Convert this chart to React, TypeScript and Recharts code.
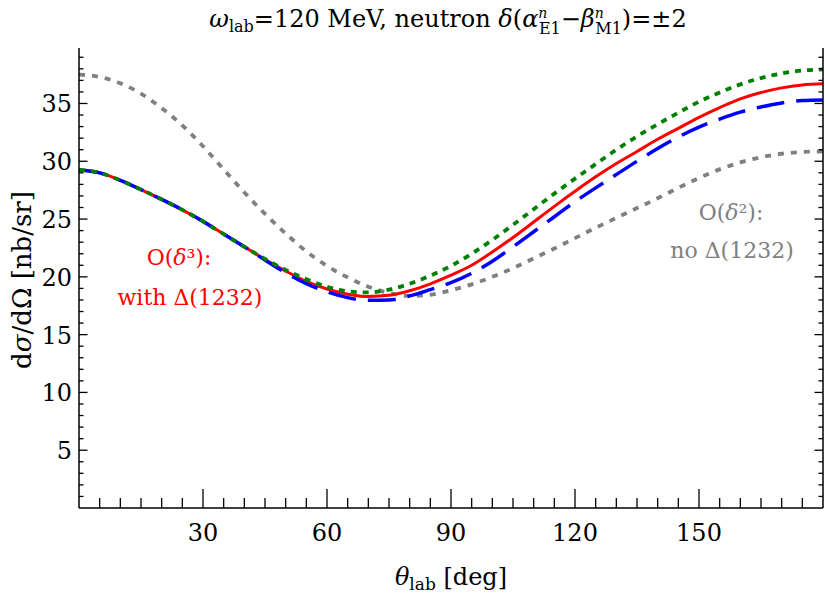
import { LineChart, Line, XAxis, YAxis, Customized } from "recharts";

// ─── Data ─────────────────────────────────────────
// lab angle in degrees
const theta = [
  0, 5, 10, 15, 20, 25, 30, 35, 40, 45, 50, 55, 60, 65, 70, 75, 80, 85, 90,
  95, 100, 105, 110, 115, 120, 125, 130, 135, 140, 145, 150, 155, 160, 165,
  170, 175, 180,
];

// O(δ³) with Δ(1232), central value
const central = [
  29.25, 29.0, 28.35, 27.55, 26.7, 25.8, 24.8, 23.7, 22.6, 21.5, 20.5, 19.6,
  18.95, 18.5, 18.3, 18.4, 18.8, 19.4, 20.15, 21.0, 22.15, 23.4, 24.75, 26.1,
  27.4, 28.65, 29.8, 30.85, 31.9, 32.85, 33.8, 34.65, 35.4, 35.95, 36.35,
  36.6, 36.7,
];

// δ(α−β) = +2
const plusTwo = [
  29.25, 29.0, 28.35, 27.55, 26.7, 25.8, 24.8, 23.7, 22.6, 21.55, 20.6, 19.8,
  19.15, 18.75, 18.65, 18.9, 19.4, 20.1, 20.95, 22.0, 23.2, 24.5, 25.85, 27.2,
  28.5, 29.75, 31.0, 32.15, 33.2, 34.2, 35.15, 35.95, 36.65, 37.2, 37.6,
  37.85, 37.95,
];

// δ(α−β) = −2
const minusTwo = [
  29.25, 29.0, 28.35, 27.55, 26.7, 25.8, 24.8, 23.7, 22.6, 21.45, 20.35, 19.4,
  18.7, 18.2, 17.97, 18.0, 18.35, 18.9, 19.5, 20.3, 21.35, 22.6, 23.9, 25.2,
  26.5, 27.7, 28.85, 30.0, 31.1, 32.1, 32.95, 33.65, 34.25, 34.7, 35.05,
  35.25, 35.3,
];

// O(δ²), no Δ(1232)
const noDelta = [
  37.5, 37.3, 36.75, 35.85, 34.6, 33.1, 31.3, 29.3, 27.3, 25.45, 23.75, 22.2,
  20.95, 19.95, 19.15, 18.6, 18.35, 18.45, 18.85, 19.35, 20.0, 20.75, 21.6,
  22.45, 23.35, 24.25, 25.1, 25.95, 26.8, 27.7, 28.55, 29.3, 29.9, 30.35,
  30.65, 30.8, 30.85,
];

const xTicks = [
  5, 10, 15, 20, 25, 30, 35, 40, 45, 50, 55, 60, 65, 70, 75, 80, 85, 90, 95,
  100, 105, 110, 115, 120, 125, 130, 135, 140, 145, 150, 155, 160, 165, 170,
  175,
];
const yTicks = [
  1, 2, 3, 4, 5, 6, 7, 8, 9, 10, 11, 12, 13, 14, 15, 16, 17, 18, 19, 20, 21,
  22, 23, 24, 25, 26, 27, 28, 29, 30, 31, 32, 33, 34, 35, 36, 37, 38, 39,
];

const rows = theta.map((t, i) => ({
  theta: t,
  central: central[i],
  plusTwo: plusTwo[i],
  minusTwo: minusTwo[i],
  noDelta: noDelta[i],
}));

const FONT = "DejaVu Serif";

// ─── Frame ticks (all point inward) ───────────────
function BottomTick({ x, y, payload }: any) {
  const major = payload.value % 30 === 0;
  return (
    <g>
      <line x1={x} x2={x} y1={y} y2={y - (major ? 19 : 10)} stroke="#000" strokeWidth={1.3} />
      {major && (
        <text x={x} y={y + 33} textAnchor="middle" style={{ fontFamily: FONT }} fontSize={24} fill="#000">
          {payload.value}
        </text>
      )}
    </g>
  );
}

function TopTick({ x, y, payload }: any) {
  const major = payload.value % 30 === 0;
  return <line x1={x} x2={x} y1={y} y2={y + (major ? 19 : 10)} stroke="#000" strokeWidth={1.3} />;
}

function LeftTick({ x, y, payload }: any) {
  const major = payload.value % 5 === 0;
  return (
    <g>
      <line x1={x} x2={x + (major ? 8.5 : 4.5)} y1={y} y2={y} stroke="#000" strokeWidth={1.3} />
      {major && (
        <text x={x - 7} y={y + 9} textAnchor="end" style={{ fontFamily: FONT }} fontSize={24} fill="#000">
          {payload.value}
        </text>
      )}
    </g>
  );
}

function RightTick({ x, y, payload }: any) {
  const major = payload.value % 5 === 0;
  return <line x1={x} x2={x - (major ? 8.5 : 4.5)} y1={y} y2={y} stroke="#000" strokeWidth={1.3} />;
}

// ─── Title, axis titles and curve notes ───────────
function Labels() {
  return (
    <g style={{ fontFamily: FONT }} fill="#000">
      <text x={448} y={27} textAnchor="middle" fontSize={24}>
        <tspan fontStyle="italic">ω</tspan>
        <tspan fontSize={16} dy={5}>lab</tspan>
        <tspan dy={-5}>=120 MeV, neutron </tspan>
        <tspan fontStyle="italic">δ</tspan>
        <tspan>(</tspan>
        <tspan fontStyle="italic">α</tspan>
        <tspan fontSize={14} fontStyle="italic" dy={-9}>n</tspan>
        <tspan fontSize={16} dx={-8.5} dy={16}>E1</tspan>
        <tspan dy={-7}>−</tspan>
        <tspan fontStyle="italic">β</tspan>
        <tspan fontSize={14} fontStyle="italic" dy={-9}>n</tspan>
        <tspan fontSize={16} dx={-8.5} dy={16}>M1</tspan>
        <tspan dy={-7}>)=±2</tspan>
      </text>

      <text x={451} y={585} textAnchor="middle" fontSize={24}>
        <tspan fontStyle="italic">θ</tspan>
        <tspan fontSize={17} dy={5}>lab</tspan>
        <tspan dy={-5}> [deg]</tspan>
      </text>

      <text transform="translate(31, 280) rotate(-90)" textAnchor="middle" fontSize={26}>
        d<tspan fontStyle="italic">σ</tspan>/dΩ [nb/sr]
      </text>

      <g fill="#ff0000" fontSize={22} textAnchor="middle">
        <text x={179} y={265}>
          O(<tspan fontStyle="italic">δ</tspan>³):
        </text>
        <text x={190} y={305}>with Δ(1232)</text>
      </g>

      <g fill="#808080" fontSize={22} textAnchor="middle">
        <text x={731} y={220}>
          O(<tspan fontStyle="italic">δ</tspan>²):
        </text>
        <text x={732} y={258}>no Δ(1232)</text>
      </g>
    </g>
  );
}

// ─── Chart ────────────────────────────────────────
export default function App() {
  return (
    <div style={{ position: "absolute", left: 0, top: 0, width: 825, height: 594, background: "#fff" }}>
      <LineChart width={825} height={594} data={rows} margin={{ top: 48, right: 1, bottom: 0, left: 0 }}>
        <XAxis
          xAxisId="b"
          dataKey="theta"
          type="number"
          domain={[0, 180]}
          ticks={xTicks}
          interval={0}
          height={86}
          tickSize={0}
          tickMargin={0}
          tickLine={false}
          axisLine={{ stroke: "#000", strokeWidth: 1.5 }}
          tick={<BottomTick />}
          allowDataOverflow
        />
        <XAxis
          xAxisId="t"
          orientation="top"
          dataKey="theta"
          type="number"
          domain={[0, 180]}
          ticks={xTicks}
          interval={0}
          height={0}
          tickSize={0}
          tickMargin={0}
          tickLine={false}
          axisLine={{ stroke: "#000", strokeWidth: 1.5 }}
          tick={<TopTick />}
          allowDataOverflow
        />
        <YAxis
          yAxisId="l"
          type="number"
          domain={[0, 39.8]}
          ticks={yTicks}
          interval={0}
          width={79}
          tickSize={0}
          tickMargin={0}
          tickLine={false}
          axisLine={{ stroke: "#000", strokeWidth: 1.5 }}
          tick={<LeftTick />}
          allowDataOverflow
        />
        <YAxis
          yAxisId="r"
          orientation="right"
          type="number"
          domain={[0, 39.8]}
          ticks={yTicks}
          interval={0}
          width={1}
          tickSize={0}
          tickMargin={0}
          tickLine={false}
          axisLine={{ stroke: "#000", strokeWidth: 1.5 }}
          tick={<RightTick />}
          allowDataOverflow
        />

        <Line xAxisId="b" yAxisId="l" type="monotone" dataKey="noDelta" stroke="#808080"
          strokeWidth={3.8} strokeDasharray="6 7" dot={false} isAnimationActive={false} />
        <Line xAxisId="b" yAxisId="l" type="monotone" dataKey="central" stroke="#ff0000"
          strokeWidth={3} dot={false} isAnimationActive={false} />
        <Line xAxisId="b" yAxisId="l" type="monotone" dataKey="minusTwo" stroke="#0000ff"
          strokeWidth={3.5} strokeDasharray="28 12" dot={false} isAnimationActive={false} />
        <Line xAxisId="b" yAxisId="l" type="monotone" dataKey="plusTwo" stroke="#008000"
          strokeWidth={3.8} strokeDasharray="6 6" dot={false} isAnimationActive={false} />

        <Customized component={Labels} />
      </LineChart>
    </div>
  );
}
